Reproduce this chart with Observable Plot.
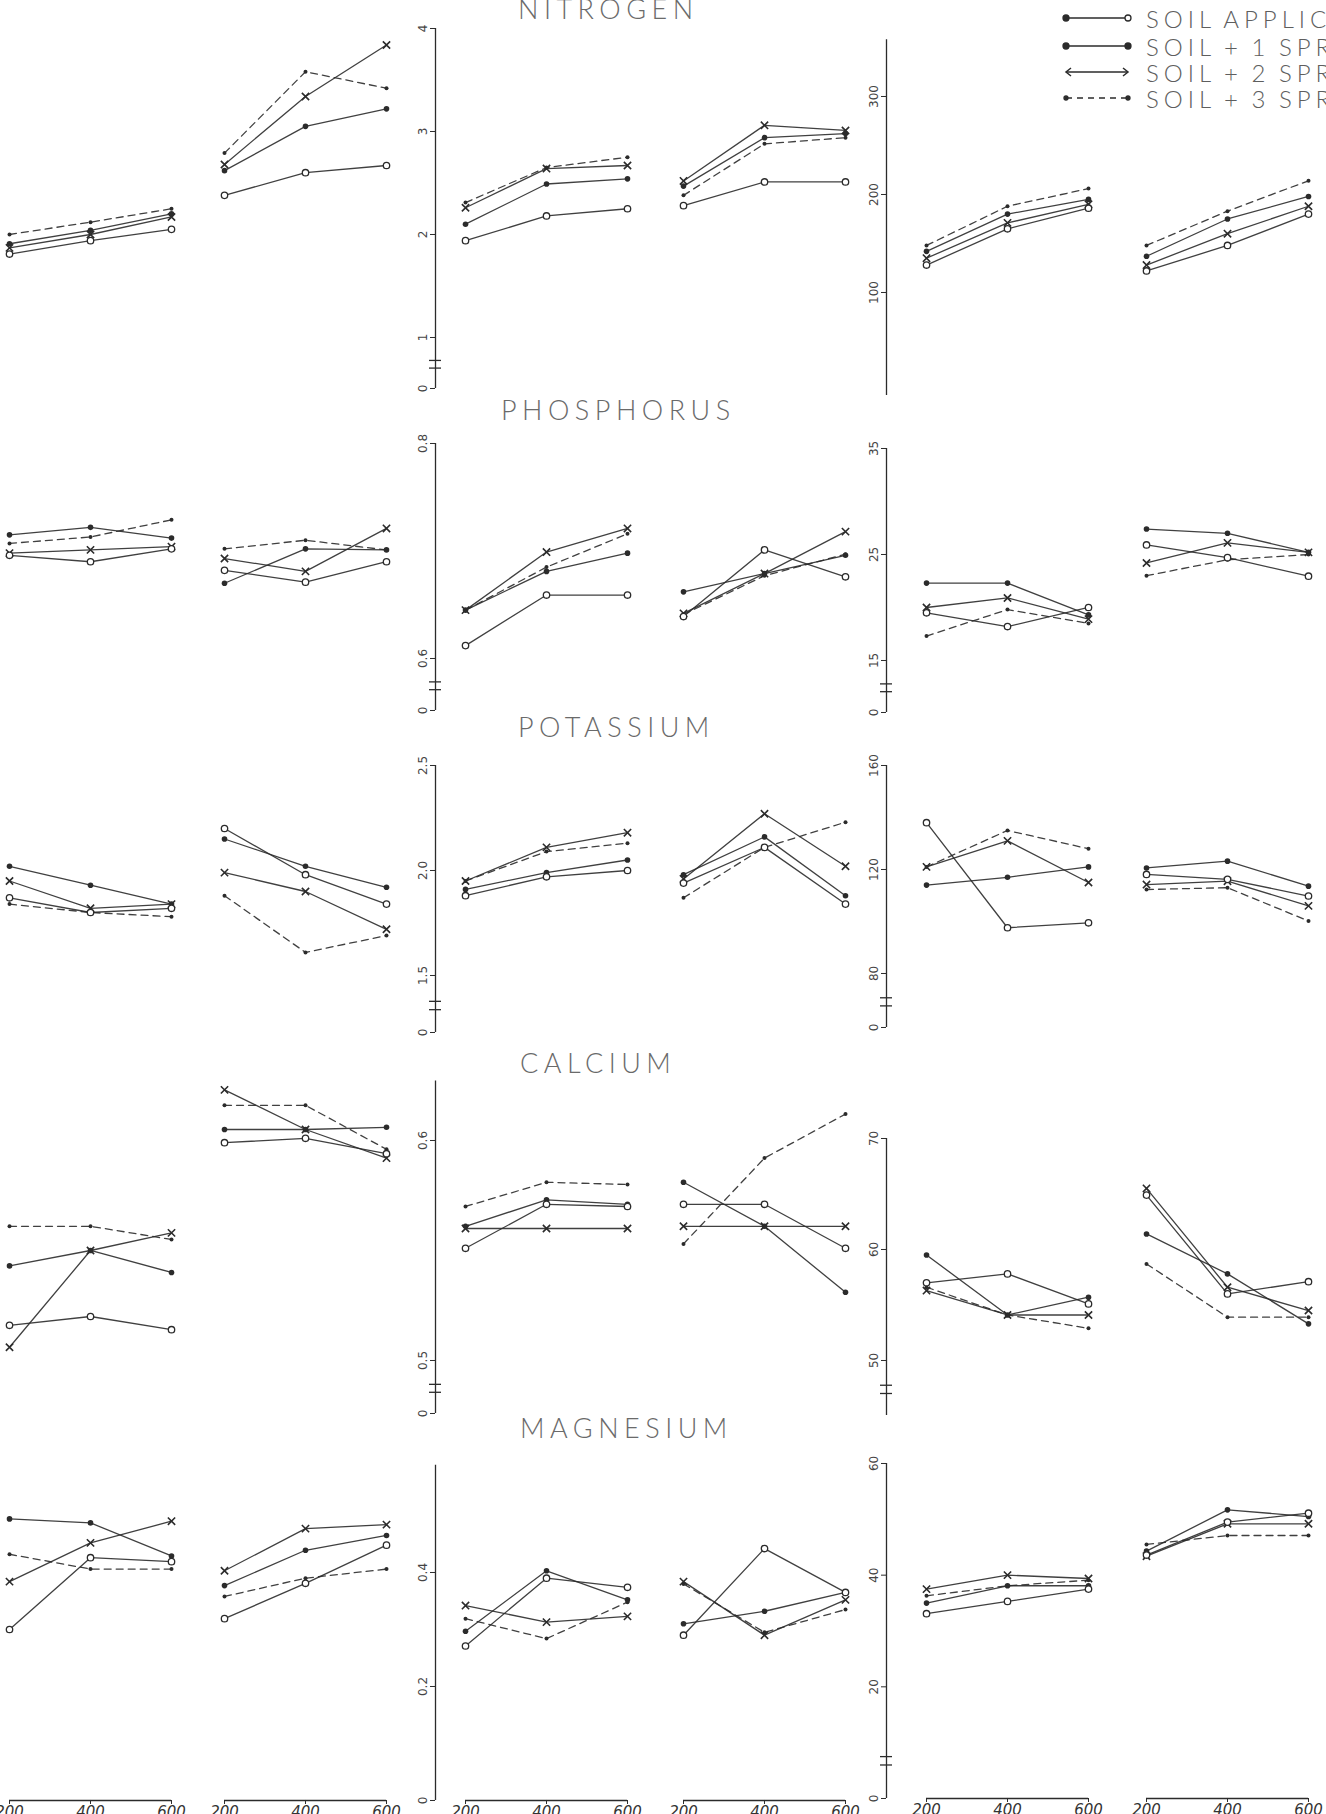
<!DOCTYPE html>
<html><head><meta charset="utf-8">
<script src="https://cdn.jsdelivr.net/npm/d3@7"></script>
<script src="https://cdn.jsdelivr.net/npm/@observablehq/plot@0.6"></script>
<style>
 body{margin:0;background:#fff;}
 #fig{position:relative;width:1326px;height:1814px;overflow:hidden;background:#fff;}
 .title{position:absolute;font-family:Lato,"DejaVu Sans",sans-serif;font-weight:300;color:#6a6a6a;font-size:27px;line-height:27px;letter-spacing:5.5px;white-space:nowrap;}
 .lg{position:absolute;font-family:Lato,"DejaVu Sans",sans-serif;font-weight:300;color:#5e5e5e;font-size:24px;line-height:24px;letter-spacing:5px;word-spacing:-3px;white-space:nowrap;}
 .pl{position:absolute;}
</style></head><body><div id="fig"></div>
<script>
// ---------------- data ----------------
const rates = [200, 400, 600];
const seriesNames = ["SOIL APPLICATION", "SOIL + 1 SPRAY", "SOIL + 2 SPRAYS", "SOIL + 3 SPRAYS"];
const nutrients = ["NITROGEN", "PHOSPHORUS", "POTASSIUM", "CALCIUM", "MAGNESIUM"];

// values[panel][series][rate]  (series: soil, +1, +2, +3 sprays)
const nitrogen = [
  [[1.81,1.94,2.05],[1.91,2.04,2.20],[1.87,2.00,2.17],[2.00,2.12,2.25]],
  [[2.38,2.60,2.67],[2.62,3.05,3.22],[2.68,3.34,3.84],[2.79,3.58,3.42]],
  [[1.94,2.18,2.25],[2.10,2.49,2.54],[2.26,2.64,2.67],[2.31,2.65,2.75]],
  [[2.28,2.51,2.51],[2.47,2.94,2.98],[2.52,3.06,3.01],[2.38,2.88,2.94]],
  [[128,165,186],[142,180,195],[135,171,190],[148,188,206]],
  [[122,148,180],[137,175,198],[128,160,188],[148,183,214]]
];
const phosphorus = [
  [[0.696,0.690,0.702],[0.715,0.722,0.712],[0.698,0.701,0.704],[0.707,0.713,0.729]],
  [[0.682,0.671,0.690],[0.670,0.702,0.701],[0.693,0.681,0.721],[0.702,0.710,0.701]],
  [[0.612,0.659,0.659],[0.645,0.681,0.698],[0.645,0.699,0.721],[0.645,0.685,0.716]],
  [[0.639,0.701,0.676],[0.662,0.679,0.696],[0.642,0.679,0.718],[0.641,0.677,0.697]],
  [[19.5,18.2,20.0],[22.3,22.3,19.3],[20.0,20.9,18.9],[17.3,19.8,18.5]],
  [[25.9,24.7,22.95],[27.4,27.0,25.2],[24.2,26.1,25.2],[23.0,24.5,25.0]]
];
const potassium = [
  [[1.87,1.80,1.82],[2.02,1.93,1.84],[1.95,1.82,1.84],[1.84,1.80,1.78]],
  [[2.20,1.98,1.84],[2.15,2.02,1.92],[1.99,1.90,1.72],[1.88,1.61,1.69]],
  [[1.88,1.97,2.00],[1.91,1.99,2.05],[1.95,2.11,2.18],[1.95,2.09,2.13]],
  [[1.94,2.11,1.84],[1.98,2.16,1.88],[1.96,2.27,2.02],[1.87,2.11,2.23]],
  [[138,97.6,99.5],[114,117,121],[121,131,115],[121,135,128]],
  [[118.1,116.2,109.8],[120.6,123.2,113.6],[114.2,115.5,106],[112.3,113,100.2]]
];
const calcium = [
  [[0.516,0.520,0.514],[0.543,0.550,0.540],[0.506,0.550,0.558],[0.561,0.561,0.555]],
  [[0.599,0.601,0.594],[0.605,0.605,0.606],[0.623,0.605,0.592],[0.616,0.616,0.596]],
  [[0.551,0.571,0.570],[0.561,0.573,0.571],[0.560,0.560,0.560],[0.570,0.581,0.580]],
  [[0.571,0.571,0.551],[0.581,0.561,0.531],[0.561,0.561,0.561],[0.553,0.592,0.612]],
  [[57.0,57.8,55.1],[59.5,54.1,55.7],[56.3,54.1,54.1],[56.6,54.1,52.9]],
  [[64.9,56.0,57.1],[61.4,57.8,53.3],[65.5,56.6,54.5],[58.7,53.9,53.9]]
];
const magnesium = [
  [[0.300,0.426,0.419],[0.494,0.487,0.429],[0.384,0.452,0.490],[0.432,0.406,0.406]],
  [[0.319,0.381,0.448],[0.377,0.439,0.465],[0.403,0.477,0.484],[0.358,0.390,0.406]],
  [[0.271,0.390,0.374],[0.297,0.403,0.352],[0.342,0.313,0.323],[0.319,0.284,0.348]],
  [[0.290,0.442,0.365],[0.310,0.332,0.365],[0.384,0.290,0.352],[0.380,0.295,0.335]],
  [[33.1,35.3,37.5],[35.0,38.1,38.1],[37.5,40.0,39.4],[36.3,38.1,39.1]],
  [[43.6,49.5,51.1],[44.3,51.7,50.5],[43.4,49.2,49.2],[45.5,47.1,47.1]]
];
const nutrientValues = [nitrogen, phosphorus, potassium, calcium, magnesium];

// axis ticks and labels (middle axis / right axis)
const nitrogenMidTicks = [0, 1, 2, 3, 4],        nitrogenMidLabels = ["0", "1", "2", "3", "4"];
const nitrogenRightTicks = [100, 200, 300],      nitrogenRightLabels = ["100", "200", "300"];
const phosphorusMidTicks = [0, 0.6, 0.8],        phosphorusMidLabels = ["0", "0.6", "0.8"];
const phosphorusRightTicks = [0, 15, 25, 35],    phosphorusRightLabels = ["0", "15", "25", "35"];
const potassiumMidTicks = [0, 1.5, 2.0, 2.5],    potassiumMidLabels = ["0", "1.5", "2.0", "2.5"];
const potassiumRightTicks = [0, 80, 120, 160],   potassiumRightLabels = ["0", "80", "120", "160"];
const calciumMidTicks = [0, 0.5, 0.6],           calciumMidLabels = ["0", "0.5", "0.6"];
const calciumRightTicks = [50, 60, 70],          calciumRightLabels = ["50", "60", "70"];
const magnesiumMidTicks = [0, 0.2, 0.4],         magnesiumMidLabels = ["0", "0.2", "0.4"];
const magnesiumRightTicks = [0, 20, 40, 60],     magnesiumRightLabels = ["0", "20", "40", "60"];

// ---------------- layout (pixels, styles) ----------------
const INK = "#2b2b2b";
const K = 0.405;            // px per rate unit
const ML = 45, MR = 12;
const groups = [
  {xmin: 133.3, off: 215 / K, left: 9 - 27},
  {xmin: 125.9, off: 218 / K, left: 435},
  {xmin: 101.2, off: 220 / K, left: 886}
];
// axis geometry: two linear anchors (lin values -> px), optional broken-axis zero position
const rows = [
  {top: 0, h: 410, title: {x: 518, base: 19},
   mid:   {lin: [1, 4], px: [337, 28], zero: 388, top: 4, breaks: [0.4, 0.55], ticks: nitrogenMidTicks, labels: nitrogenMidLabels},
   right: {lin: [100, 300], px: [292, 96], zero: null, bottom: -5, top: 358, breaks: [], ticks: nitrogenRightTicks, labels: nitrogenRightLabels}},
  {top: 425, h: 300, title: {x: 501, base: 420},
   mid:   {lin: [0.6, 0.8], px: [658, 443], zero: 710, top: 0.8, breaks: [0.24, 0.33], ticks: phosphorusMidTicks, labels: phosphorusMidLabels},
   right: {lin: [15, 35], px: [660, 448], zero: 712, top: 35, breaks: [6, 8.25], ticks: phosphorusRightTicks, labels: phosphorusRightLabels}},
  {top: 745, h: 300, title: {x: 518, base: 737},
   mid:   {lin: [1.5, 2.5], px: [975, 765], zero: 1032, top: 2.5, breaks: [0.6, 0.82], ticks: potassiumMidTicks, labels: potassiumMidLabels},
   right: {lin: [80, 160], px: [973, 765], zero: 1027, top: 160, breaks: [32, 44], ticks: potassiumRightTicks, labels: potassiumRightLabels}},
  {top: 1060, h: 370, title: {x: 520, base: 1073},
   mid:   {lin: [0.5, 0.6], px: [1360, 1140], zero: 1413, top: 0.627, breaks: [0.2, 0.275], ticks: calciumMidTicks, labels: calciumMidLabels},
   right: {lin: [50, 70], px: [1360, 1138], zero: 1415, top: 70, breaks: [20, 27.5], ticks: calciumRightTicks, labels: calciumRightLabels}},
  {top: 1445, h: 369, title: {x: 520, base: 1438},
   mid:   {lin: [0, 0.4], px: [1800, 1572], zero: null, bottom: 0, top: 0.588, breaks: [], ticks: magnesiumMidTicks, labels: magnesiumMidLabels},
   right: {lin: [0, 60], px: [1798, 1463], zero: null, bottom: 0, top: 60, breaks: [6, 7.5], ticks: magnesiumRightTicks, labels: magnesiumRightLabels}}
];

const fig = document.getElementById("fig");

function yScaleFor(ys, T) {
  const slope = (ys.px[1] - ys.px[0]) / (ys.lin[1] - ys.lin[0]);
  const pxAt = v => ys.px[0] + (v - ys.lin[0]) * slope;
  const vAt = p => ys.lin[0] + (p - ys.px[0]) / slope;
  if (ys.zero != null) {
    const b = ys.lin[0], vz = vAt(ys.zero);
    // broken axis: the stretch from 0 to the first labelled tick is compressed
    const transform = v => v >= b ? v : vz + (v / b) * (b - vz);
    return {scale: {transform, domain: [vz, ys.top], range: [ys.zero - T, pxAt(ys.top) - T]}, y1: 0, zeroPx: ys.zero};
  }
  return {scale: {domain: [ys.bottom, ys.top], range: [pxAt(ys.bottom) - T, pxAt(ys.top) - T]}, y1: ys.bottom, zeroPx: pxAt(0)};
}

function groupPlot(ri, g) {
  const R = rows[ri], G = groups[g];
  const ys = g === 2 ? R.right : R.mid;
  const Y = yScaleFor(ys, R.top);
  const xmax = d3.max(rates) + G.off;
  const span = (xmax - G.xmin) * K;
  const width = ML + span + MR;
  const bottom = ri === rows.length - 1;
  const marginBottom = bottom ? R.h - (Y.zeroPx - R.top) : 0;
  const vals = nutrientValues[ri];
  const data = [];
  [0, 1].forEach(p => vals[2 * g + p].forEach((arr, s) => arr.forEach((v, i) =>
    data.push({panel: p, series: s, rate: rates[i], x: rates[i] + p * G.off, value: v}))));
  const bySeries = s => data.filter(d => d.series === s);
  const marks = [];
  for (let s = 0; s < 4; s++) {
    marks.push(Plot.line(bySeries(s), {x: "x", y: "value", z: "panel", stroke: INK, strokeWidth: 1.3,
      strokeDasharray: s === 3 ? "7,5" : null, strokeOpacity: 0.9}));
  }
  marks.push(Plot.dot(bySeries(3), {x: "x", y: "value", r: 2, fill: INK}));
  marks.push(Plot.dot(bySeries(2), {x: "x", y: "value", r: 3.4, symbol: "times", stroke: INK, strokeWidth: 1.6}));
  marks.push(Plot.dot(bySeries(1), {x: "x", y: "value", r: 2.8, fill: INK}));
  marks.push(Plot.dot(bySeries(0), {x: "x", y: "value", r: 3.2, fill: "white", stroke: INK, strokeWidth: 1.3}));
  if (g > 0) {
    marks.push(Plot.ruleX([G.xmin], {y1: Y.y1, y2: ys.top, stroke: INK, strokeWidth: 1.3}));
    marks.push(Plot.axisY(ys.ticks, {anchor: "left", label: null, tickSize: 5, tickPadding: 4, tickRotate: -90,
      tickFormat: d => ys.labels[ys.ticks.indexOf(d)], fontSize: 12, fill: "#444", stroke: INK}));
    if (ys.breaks.length) marks.push(Plot.ruleY(ys.breaks, {x1: G.xmin - 6 / K, x2: G.xmin + 6 / K, stroke: INK, strokeWidth: 1.3}));
  }
  if (bottom) {
    marks.push(Plot.ruleY([0, 1], {y: 0, x1: p => d3.min(rates) + p * G.off, x2: p => d3.max(rates) + p * G.off, stroke: INK, strokeWidth: 1.6}));
    const xt = [0, 1].flatMap(p => rates.map(r => r + p * G.off));
    marks.push(Plot.axisX(xt, {anchor: "bottom", label: null, tickSize: 4, tickPadding: 2, stroke: INK,
      tickFormat: d => String(rates[xt.indexOf(d) % rates.length]), fontSize: 15, fontStyle: "italic", fill: "#333"}));
  }
  const svg = Plot.plot({
    width, height: R.h, marginLeft: ML, marginRight: MR, marginTop: 0, marginBottom,
    x: {domain: [G.xmin, xmax], range: [ML, ML + span], axis: null},
    y: {...Y.scale, axis: null},
    style: {background: "transparent", overflow: "visible", fontFamily: "'DejaVu Sans', sans-serif"},
    marks
  });
  const wrap = document.createElement("div");
  wrap.className = "pl";
  wrap.style.left = (G.left - ML) + "px";
  wrap.style.top = R.top + "px";
  wrap.appendChild(svg);
  fig.appendChild(wrap);
}

rows.forEach((R, ri) => {
  for (let g = 0; g < 3; g++) groupPlot(ri, g);
  const t = document.createElement("div");
  t.className = "title";
  t.textContent = nutrients[ri];
  t.style.left = R.title.x + "px";
  t.style.top = (R.title.base - 24) + "px";
  fig.appendChild(t);
});

// legend
const legendRowsY = [18, 46, 72, 98];
seriesNames.forEach((name, s) => {
  const y = legendRowsY[s];
  const ns = "http://www.w3.org/2000/svg";
  const sv = document.createElementNS(ns, "svg");
  sv.setAttribute("width", 80); sv.setAttribute("height", 20);
  sv.style.position = "absolute"; sv.style.left = "1058px"; sv.style.top = (y - 10) + "px";
  const ln = document.createElementNS(ns, "line");
  ln.setAttribute("x1", 8); ln.setAttribute("x2", 70); ln.setAttribute("y1", 10); ln.setAttribute("y2", 10);
  ln.setAttribute("stroke", INK); ln.setAttribute("stroke-width", 1.5);
  if (s === 3) ln.setAttribute("stroke-dasharray", "6,5");
  sv.appendChild(ln);
  const end = (cx, kind) => {
    if (kind === "open" || kind === "fill" || kind === "small") {
      const c = document.createElementNS(ns, "circle");
      c.setAttribute("cx", cx); c.setAttribute("cy", 10); c.setAttribute("r", kind === "small" ? 2 : 3);
      c.setAttribute("fill", kind === "open" ? "white" : INK); c.setAttribute("stroke", INK); c.setAttribute("stroke-width", 1.3);
      sv.appendChild(c);
    } else {
      const p = document.createElementNS(ns, "path");
      const d = kind === "left" ? `M${cx+5},6 L${cx},10 L${cx+5},14` : `M${cx-5},6 L${cx},10 L${cx-5},14`;
      p.setAttribute("d", d); p.setAttribute("fill", "none"); p.setAttribute("stroke", INK); p.setAttribute("stroke-width", 1.5);
      sv.appendChild(p);
    }
  };
  const kinds = [["fill", "open"], ["fill", "fill"], ["left", "right"], ["small", "small"]][s];
  end(8, kinds[0]); end(70, kinds[1]);
  fig.appendChild(sv);
  const t = document.createElement("div");
  t.className = "lg";
  t.textContent = name;
  t.style.left = "1146px";
  t.style.top = (y - 11) + "px";
  fig.appendChild(t);
});
</script></body></html>
